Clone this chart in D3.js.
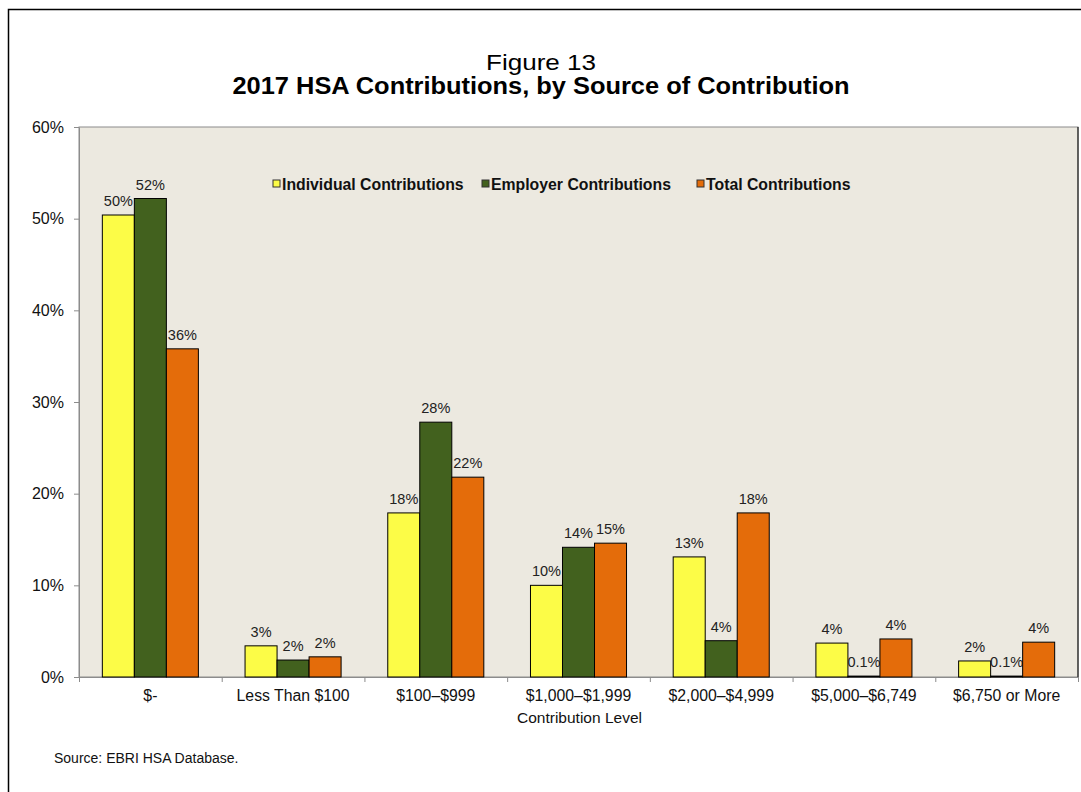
<!DOCTYPE html>
<html>
<head>
<meta charset="utf-8">
<script src="https://cdn.jsdelivr.net/npm/d3@7"></script>
<style>
  body { margin: 0; background: #fff; }
  svg text { font-family: "Liberation Sans", Arial, sans-serif; }
</style>
</head>
<body>
<svg id="chart"></svg>
<script>
const categories = ["$-", "Less Than $100", "$100\u2013$999", "$1,000\u2013$1,999", "$2,000\u2013$4,999", "$5,000\u2013$6,749", "$6,750 or More"];
const seriesNames = ["Individual Contributions", "Employer Contributions", "Total Contributions"];
const individual = [50.4, 3.4, 17.9, 10.0, 13.1, 3.7, 1.75];
const employer = [52.2, 1.85, 27.8, 14.15, 3.96, 0.1, 0.1];
const total = [35.8, 2.2, 21.8, 14.6, 17.9, 4.15, 3.8];
const valueLabels = [
  ["50%", "3%", "18%", "10%", "13%", "4%", "2%"],
  ["52%", "2%", "28%", "14%", "4%", "0.1%", "0.1%"],
  ["36%", "2%", "22%", "15%", "18%", "4%", "4%"]
];
const yTicks = [0, 10, 20, 30, 40, 50, 60];
const colors = ["#FCFC47", "#42611E", "#E46C0A"];

const width = 1081, height = 792;
const plot = {left: 79, right: 1078, top: 127, bottom: 677};

const svg = d3.select("#chart").attr("width", width).attr("height", height);

// outer frame (left + top only visible)
svg.append("path")
  .attr("d", `M8.5,${height} L8.5,9.5 L${width},9.5`)
  .attr("fill", "none").attr("stroke", "#000").attr("stroke-width", 1.5);

svg.append("text").attr("x", 541).attr("y", 70).attr("text-anchor", "middle")
  .style("font-size", "21.5px").attr("textLength", 110).attr("lengthAdjust", "spacingAndGlyphs")
  .text("Figure 13");
svg.append("text").attr("x", 541).attr("y", 94).attr("text-anchor", "middle")
  .style("font-size", "23px").style("font-weight", "bold")
  .attr("textLength", 617).attr("lengthAdjust", "spacingAndGlyphs")
  .text("2017 HSA Contributions, by Source of Contribution");

const x0 = d3.scaleBand().domain(categories).range([plot.left, plot.right]);
const groupW = x0.bandwidth() * 0.673;
const x1 = d3.scaleBand().domain(seriesNames).range([0, groupW]);
const y = d3.scaleLinear().domain([0, 60]).range([plot.bottom, plot.top]);

// plot background
svg.append("rect")
  .attr("x", plot.left).attr("y", plot.top)
  .attr("width", plot.right - plot.left).attr("height", plot.bottom - plot.top)
  .attr("fill", "#ECE9E0").attr("stroke", "#8c8c8c");
svg.append("line").attr("x1", plot.right).attr("x2", plot.right)
  .attr("y1", plot.top).attr("y2", plot.bottom).attr("stroke", "#000");

// y axis
const yAxis = svg.append("g").attr("transform", `translate(${plot.left},0)`)
  .call(d3.axisLeft(y).tickValues(yTicks).tickFormat(d => d + "%").tickSize(5).tickSizeOuter(0));
yAxis.select(".domain").attr("stroke", "#8c8c8c");
yAxis.selectAll(".tick line").attr("stroke", "#8c8c8c");
yAxis.selectAll(".tick text").attr("x", -15).style("font-size", "16px").attr("fill", "#111");

// x axis
const xAxis = svg.append("g").attr("transform", `translate(0,${plot.bottom})`)
  .call(d3.axisBottom(x0).tickSize(0).tickSizeOuter(0));
xAxis.select(".domain").attr("stroke", "#8c8c8c");
xAxis.selectAll(".tick text").attr("y", 13).style("font-size", "15.8px").attr("fill", "#111");
svg.append("g").selectAll("line")
  .data(categories.concat([null]))
  .join("line")
  .attr("x1", (d, i) => plot.left + i * x0.step() + 0.5)
  .attr("x2", (d, i) => plot.left + i * x0.step() + 0.5)
  .attr("y1", plot.bottom).attr("y2", plot.bottom + 5)
  .attr("stroke", "#8c8c8c");

svg.append("text").attr("x", (plot.left + plot.right) / 2 + 1).attr("y", 723)
  .attr("text-anchor", "middle").style("font-size", "15.5px").attr("fill", "#111")
  .text("Contribution Level");

// bars
const series = [individual, employer, total];
const off = (x0.bandwidth() - groupW) / 2;
series.forEach((vals, s) => {
  const g = svg.append("g");
  g.selectAll("rect").data(vals).join("rect")
    .attr("x", (d, i) => x0(categories[i]) + off + x1(seriesNames[s]))
    .attr("y", d => y(d))
    .attr("width", x1.bandwidth())
    .attr("height", d => y(0) - y(d))
    .attr("fill", colors[s]).attr("stroke", "#000").attr("stroke-width", 1);
  g.selectAll("text").data(vals).join("text")
    .attr("x", (d, i) => x0(categories[i]) + off + x1(seriesNames[s]) + x1.bandwidth() / 2)
    .attr("y", d => y(d) - 9)
    .attr("text-anchor", "middle").style("font-size", "14.5px").attr("fill", "#222")
    .text((d, i) => valueLabels[s][i]);
});

// legend
const legendX = [273, 482, 697];
const legend = svg.append("g").selectAll("g").data(seriesNames).join("g")
  .attr("transform", (d, i) => `translate(${legendX[i]},184)`);
legend.append("rect").attr("x", 0).attr("y", -4).attr("width", 7).attr("height", 7)
  .attr("fill", (d, i) => colors[i]).attr("stroke", "#333");
legend.append("text").attr("x", 9).attr("y", 5.5)
  .style("font-size", "15.8px").style("font-weight", "bold").attr("fill", "#111")
  .text(d => d);

svg.append("text").attr("x", 54).attr("y", 763).style("font-size", "14px").attr("fill", "#111")
  .text("Source: EBRI HSA Database.");
</script>
</body>
</html>
